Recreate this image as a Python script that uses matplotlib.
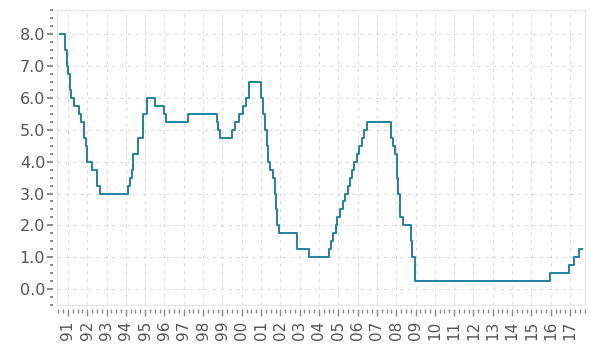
'''Fed funds target rate, step chart'''
import pandas as pd
import matplotlib
matplotlib.use('Agg')
from matplotlib import pyplot as plt
import matplotlib.dates as mdates
from matplotlib.ticker import MultipleLocator, FormatStrFormatter

# dates where the rate changes (value holds until next date)
change_dates = [
    '1990-08-01', '1990-10-29', '1990-11-14', '1990-12-07', '1990-12-19',
    '1991-01-09', '1991-02-01', '1991-03-08', '1991-04-30', '1991-08-06',
    '1991-09-13', '1991-10-31', '1991-11-06', '1991-12-06', '1991-12-20',
    '1992-04-09', '1992-07-02', '1992-09-04', '1994-02-04', '1994-03-22',
    '1994-04-18', '1994-05-17', '1994-08-16', '1994-11-15', '1995-02-01',
    '1995-07-06', '1995-12-19', '1996-01-31', '1997-03-25', '1998-09-29',
    '1998-10-15', '1998-11-17', '1999-06-30', '1999-08-24', '1999-11-16',
    '2000-02-02', '2000-03-21', '2000-05-16', '2001-01-03', '2001-01-31',
    '2001-03-20', '2001-04-18', '2001-05-15', '2001-06-27', '2001-08-21',
    '2001-09-17', '2001-10-02', '2001-11-06', '2001-12-11', '2002-11-06',
    '2003-06-25', '2004-06-30', '2004-08-10', '2004-09-21', '2004-11-10',
    '2004-12-14', '2005-02-02', '2005-03-22', '2005-05-03', '2005-06-30',
    '2005-08-09', '2005-09-20', '2005-11-01', '2005-12-13', '2006-01-31',
    '2006-03-28', '2006-05-10', '2006-06-29', '2007-09-18', '2007-10-31',
    '2007-12-11', '2008-01-22', '2008-01-30', '2008-03-18', '2008-04-30',
    '2008-10-08', '2008-10-29', '2008-12-16', '2015-12-16', '2016-12-14',
    '2017-03-15', '2017-06-14', '2017-08-10',
]
target_rates = [
    8.0, 7.75, 7.5, 7.25, 7.0,
    6.75, 6.25, 6.0, 5.75, 5.5,
    5.25, 5.0, 4.75, 4.5, 4.0,
    3.75, 3.25, 3.0, 3.25, 3.5,
    3.75, 4.25, 4.75, 5.5, 6.0,
    5.75, 5.5, 5.25, 5.5, 5.25,
    5.0, 4.75, 5.0, 5.25, 5.5,
    5.75, 6.0, 6.5, 6.0, 5.5,
    5.0, 4.5, 4.0, 3.75, 3.5,
    3.0, 2.5, 2.0, 1.75, 1.25,
    1.0, 1.25, 1.5, 1.75, 2.0,
    2.25, 2.5, 2.75, 3.0, 3.25,
    3.5, 3.75, 4.0, 4.25, 4.5,
    4.75, 5.0, 5.25, 4.75, 4.5,
    4.25, 3.5, 3.0, 2.25, 2.0,
    1.5, 1.0, 0.25, 0.5, 0.75,
    1.0, 1.25, 1.25,
]

LINE_COLOR = '#2282a0'
TEXT_COLOR = '#555555'
GRID_COLOR = '#dddddd'


def plot_rates(file_name):
    dates = pd.to_datetime(change_dates)

    fig = plt.figure(figsize=(6.0, 3.46), dpi=100)
    ax = fig.add_axes([0.095, 0.1185, 0.88, 0.8525])

    ax.step(dates, target_rates, where='post', color=LINE_COLOR, lw=1.4)

    ax.set_xlim(pd.Timestamp('1990-06-08'), pd.Timestamp('2017-10-10'))
    ax.set_ylim(-0.5, 8.76)

    # x axis: yearly labels, quarterly minor ticks
    ax.xaxis.set_major_locator(mdates.YearLocator())
    ax.xaxis.set_major_formatter(mdates.DateFormatter('%y'))
    ax.xaxis.set_minor_locator(mdates.MonthLocator(bymonth=[4, 7, 10]))
    ax.yaxis.set_major_locator(MultipleLocator(1.0))
    ax.yaxis.set_minor_locator(MultipleLocator(0.25))
    ax.yaxis.set_major_formatter(FormatStrFormatter('%.1f'))

    ax.tick_params(axis='x', which='major', direction='out', length=5,
                   width=1, color='#888888', labelrotation=90,
                   labelsize=11, labelcolor=TEXT_COLOR, pad=3)
    ax.tick_params(axis='x', which='minor', direction='out', length=3,
                   width=1, color='#888888')
    ax.tick_params(axis='y', which='major', direction='out', length=4.5,
                   width=1.2, color='#777777', labelsize=11.5,
                   labelcolor=TEXT_COLOR, pad=1)
    ax.tick_params(axis='y', which='minor', direction='out', length=2.2,
                   width=1.2, color='#777777')

    for side in ['left', 'bottom']:
        ax.spines[side].set_position(('outward', 3))
        ax.spines[side].set_visible(False)
    for side in ['top', 'right']:
        ax.spines[side].set_color('#e8e8e8')
    ax.patch.set_edgecolor('#e8e8e8')
    ax.patch.set_linewidth(1)

    ax.grid(True, which='major', color=GRID_COLOR, linestyle=(0, (3, 4)),
            linewidth=0.8)
    ax.set_axisbelow(True)

    plt.savefig(file_name, dpi=100)
    plt.close()


plot_rates('out.png')
